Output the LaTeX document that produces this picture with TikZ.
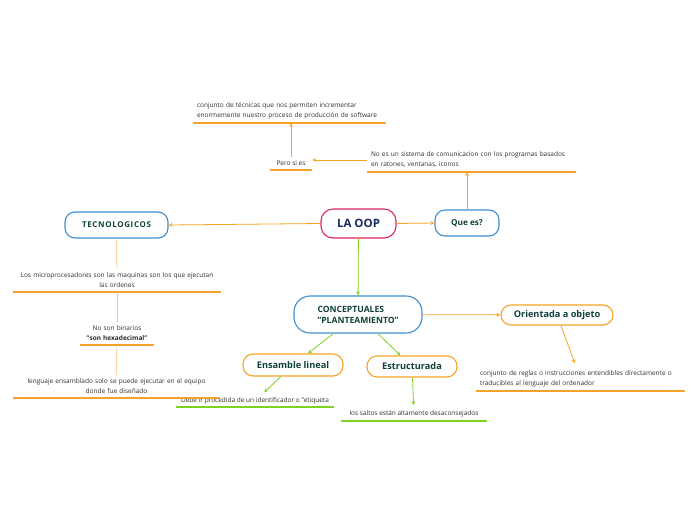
\documentclass[tikz,border=0pt]{standalone}
\usepackage{fontspec}
\setmainfont{Open Sans}
\definecolor{azul}{HTML}{3D8FD1}
\definecolor{rosa}{HTML}{E0245E}
\definecolor{naranja}{HTML}{F6A327}
\definecolor{verde}{HTML}{7ED321}
\definecolor{verdeosc}{HTML}{10403A}
\definecolor{marino}{HTML}{1A2B5F}
\definecolor{gristxt}{HTML}{2E2E2E}
\begin{document}
\begin{tikzpicture}[x=1pt, y=-1pt, >=stealth,
  caja/.style={draw, line width=1.1pt, fill=white, rounded corners=10pt, inner sep=0pt,
    font=\bfseries\fontsize{8.6}{11}\selectfont, text=verdeosc},
  nota/.style={anchor=south, inner xsep=4pt, inner ysep=4pt, text=gristxt,
    font=\fontsize{6.5}{10}\selectfont},
  flO/.style={draw=naranja, line width=0.8pt},
  flV/.style={draw=verde, line width=0.8pt},
  flC/.style={draw=naranja!65, line width=0.7pt},
  subO/.style={draw=naranja, line width=1.4pt},
  subV/.style={draw=verde, line width=1.4pt}]
  \useasboundingbox (0,0) rectangle (696,520);

  \node[caja, draw=rosa, text=marino, minimum width=75pt, minimum height=29pt, rounded corners=12pt,
    font=\bfseries\fontsize{11.5}{13}\selectfont] (oop) at (358.5,223.5) {LA OOP};
  \node[caja, draw=azul, minimum width=64pt, minimum height=26pt, font=\bfseries\fontsize{8.2}{10}\selectfont]
    (quees) at (467,223) {Que es?};
  \node[caja, draw=azul, minimum width=103pt, minimum height=26pt,
    font=\bfseries\fontsize{8}{10}\selectfont\addfontfeature{LetterSpace=8}] (tecno) at (116.5,225) {TECNOLOGICOS};
  \node[caja, draw=azul, minimum width=128pt, minimum height=37pt, rounded corners=16pt, align=left]
    (concep) at (358,314.5) {CONCEPTUALES\\"PLANTEAMIENTO"};
  \node[caja, draw=naranja, minimum width=112pt, minimum height=20pt, font=\bfseries\fontsize{9.2}{11}\selectfont]
    (orient) at (557,315) {Orientada a objeto};
  \node[caja, draw=naranja, minimum width=100pt, minimum height=22pt, font=\bfseries\fontsize{9.2}{11}\selectfont]
    (ensamble) at (293,365) {Ensamble lineal};
  \node[caja, draw=naranja, minimum width=90pt, minimum height=21pt, font=\bfseries\fontsize{9.2}{11}\selectfont]
    (estruct) at (412,366.5) {Estructurada};

  \node[nota, text width=185pt, align=left] (tecnicas) at (289.5,123)
    {conjunto de técnicas que nos permiten incrementar\\enormemente nuestro proceso de producción de software};
  \node[nota, minimum width=42pt] (pero) at (291,170) {Pero si es};
  \node[nota, text width=201pt, align=left] (noes) at (471.5,172)
    {No es un sistema de comunicacion con los programas basados\\en ratones, ventanas, iconos};
  \node[nota, text width=200pt, align=center] (micro) at (117,292)
    {Los microprocesadores son las maquinas son los que ejecutan\\las ordenes};
  \node[nota, text width=66pt, align=center] (binarios) at (117,345)
    {No son binarios\\\textbf{"son hexadecimal"}};
  \node[nota, text width=199pt, align=center] (lenguaje) at (116.5,398)
    {lenguaje ensamblado solo se puede ejecutar en el equipo\\donde fue diseñado};
  \node[nota, minimum width=157pt, inner ysep=2.5pt] (debe) at (255,407) {Debe ir procedida de un identificador o "etiqueta};
  \node[nota, minimum width=146pt] (saltos) at (414,421) {los saltos están altamente desaconsejados};
  \node[nota, text width=201pt, align=left] (reglas) at (580.5,391)
    {conjunto de reglas o instrucciones entendibles directamente o\\traducibles al lenguaje del ordenador};

  \foreach \n in {tecnicas,pero,noes,micro,binarios,lenguaje,reglas}
    \draw[subO] (\n.south west) -- (\n.south east);
  \foreach \n in {debe,saltos}
    \draw[subV] (\n.south west) -- (\n.south east);

  \draw[flO,->] (oop.west) -- (tecno.east);
  \draw[flO,->] (oop.east) -- (quees.west);
  \draw[flO,->] (quees.north) -- (quees.north |- noes.south);
  \draw[flO,->] (noes.west) -- (noes.west -| pero.east);
  \draw[flO,->] (pero.north) -- (pero.north |- tecnicas.south);
  \draw[flV,->] (oop) -- (concep);
  \draw[flO,->] (concep) -- (orient);
  \draw[flV,->] (concep) -- (ensamble);
  \draw[flV,->] (concep) -- (estruct);
  \draw[flV,->, shorten >=4pt] (ensamble) -- (debe);
  \draw[flV,->, shorten >=1pt] (estruct) -- (saltos);
  \draw[flO,->, shorten >=3pt] (orient) -- (reglas);
  \draw[flC] (tecno) -- (micro);
  \draw[flC] (micro) -- (binarios);
  \draw[flC] (binarios) -- (lenguaje);
\end{tikzpicture}
\end{document}
